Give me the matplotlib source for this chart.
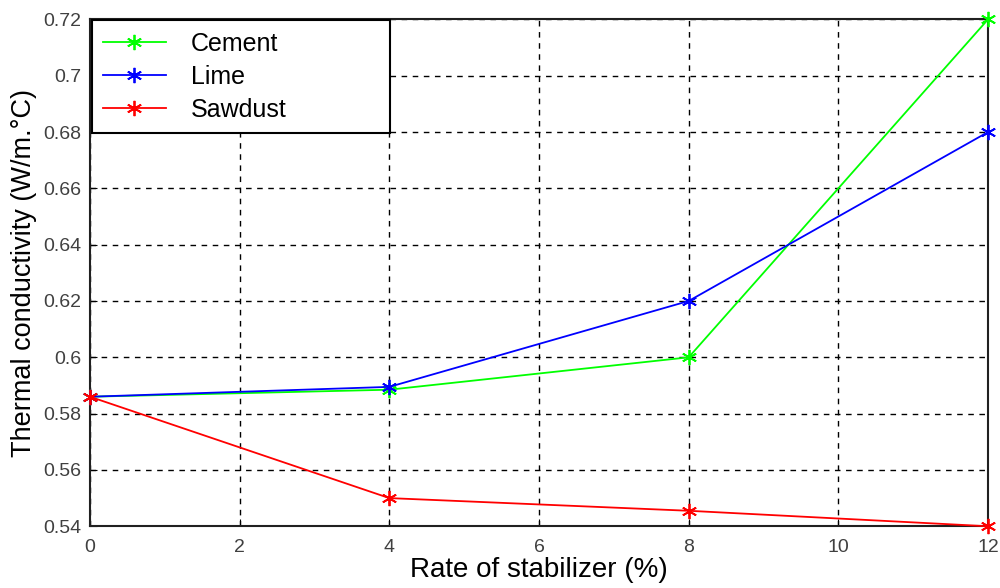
import matplotlib
matplotlib.use("Agg")
import matplotlib.pyplot as plt

# rate of stabilizer (%)
rate = [0, 4, 8, 12]
cement = [0.586, 0.5885, 0.600, 0.720]
lime = [0.586, 0.5895, 0.620, 0.680]
sawdust = [0.586, 0.550, 0.5455, 0.540]

xticks = [0, 2, 4, 6, 8, 10, 12]
yticks = [0.54, 0.56, 0.58, 0.6, 0.62, 0.64, 0.66, 0.68, 0.7, 0.72]
ytick_labels = ["0.54", "0.56", "0.58", "0.6", "0.62", "0.64", "0.66", "0.68", "0.7", "0.72"]

plt.rcParams['font.family'] = ['Liberation Sans', 'DejaVu Sans']

fig = plt.figure(figsize=(10, 5.88), dpi=100)
ax = fig.add_axes([0.09, 0.105, 0.898, 0.862])

star = (6, 2, 0)  # asterisk like matlab '*'
ax.plot(rate, cement, color='#00ff00', marker=star, markersize=11, mew=1.3, lw=1.3, label='Cement', clip_on=False, zorder=3)
ax.plot(rate, lime, color='#0000ff', marker=star, markersize=11, mew=1.3, lw=1.3, label='Lime', clip_on=False, zorder=3)
ax.plot(rate, sawdust, color='#ff0000', marker=star, markersize=11, mew=1.3, lw=1.3, label='Sawdust', clip_on=False, zorder=3)

ax.set_xlim(0, 12)
ax.set_ylim(0.54, 0.72)
ax.set_xticks(xticks)
ax.set_yticks(yticks)
ax.set_yticklabels(ytick_labels)
ax.tick_params(labelsize=14, labelcolor='#404040', direction='in', length=5)
ax.tick_params(axis='x', pad=9)
ax.tick_params(axis='y', pad=6)
ax.grid(True, color='black', linestyle=(0, (4, 4)), linewidth=1)
for s in ax.spines.values():
    s.set_linewidth(1.5)
    s.set_color('#202020')

ax.set_xlabel('Rate of stabilizer (%)', fontsize=20, labelpad=1)
ax.set_ylabel('Thermal conductivity (W/m.°C)', fontsize=19.5, labelpad=5)

leg = ax.legend(loc='upper left', bbox_to_anchor=(0.002, 0.998, 0.332, 0.0), mode='expand',
                fontsize=18, handlelength=2.5, handletextpad=1.0,
                borderaxespad=0, fancybox=False, framealpha=1, edgecolor='black',
                borderpad=0.45, labelspacing=0.36)
leg.get_frame().set_linewidth(1.5)

plt.savefig('out.png', dpi=100)
